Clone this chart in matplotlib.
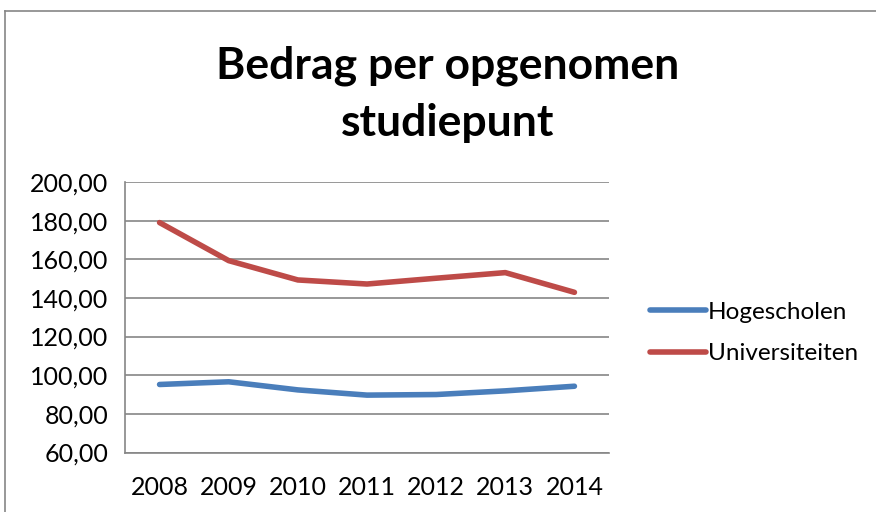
import matplotlib
matplotlib.use('Agg')
import matplotlib.pyplot as plt
from matplotlib.lines import Line2D

years = ['2008', '2009', '2010', '2011', '2012', '2013', '2014']
hogescholen = [95.2, 96.6, 92.4, 89.7, 90.0, 91.9, 94.3]
universiteiten = [179.0, 159.3, 149.3, 147.2, 150.2, 153.1, 142.9]
yticks = [60, 80, 100, 120, 140, 160, 180, 200]

blue = '#4A7EBB'
red = '#BE4B48'
grid_col = '#868686'
font = 'Lato'

fig = plt.figure(figsize=(8.76, 5.12), dpi=100)

# outer chart border (top and left visible)
fig.add_artist(Line2D([5 / 876, 5 / 876], [0, 1 - 10.5 / 512], color=grid_col, lw=1.2))
fig.add_artist(Line2D([5 / 876, 1], [1 - 10.5 / 512, 1 - 10.5 / 512], color=grid_col, lw=1.2))

ax = fig.add_axes([125 / 876, 1 - 452.5 / 512, 484 / 876, 270.5 / 512])
x = list(range(len(years)))
ax.plot(x, hogescholen, color=blue, lw=4, solid_capstyle='round', label='Hogescholen')
ax.plot(x, universiteiten, color=red, lw=4, solid_capstyle='round', label='Universiteiten')

ax.set_xlim(-0.5, len(years) - 0.5)
ax.set_ylim(60, 200)
ax.set_yticks(yticks)
ax.set_yticklabels([f'{v:.2f}'.replace('.', ',') for v in yticks], fontsize=18, family=font)
ax.set_xticks(x)
ax.set_xticklabels(years, fontsize=18, family=font)
ax.tick_params(length=0)
ax.tick_params(axis='y', pad=12)
ax.tick_params(axis='x', pad=17)
ax.yaxis.grid(True, color=grid_col, lw=1.2)
ax.set_axisbelow(True)
for s in ['top', 'right']:
    ax.spines[s].set_visible(False)
for s in ['left', 'bottom']:
    ax.spines[s].set_color(grid_col)
    ax.spines[s].set_linewidth(1.2)

fig.text(448 / 876, 1 - 66 / 512, 'Bedrag per opgenomen', ha='center', va='center',
         fontsize=32, fontweight='bold', family=font)
fig.text(448 / 876, 1 - 123 / 512, 'studiepunt', ha='center', va='center',
         fontsize=32, fontweight='bold', family=font)

leg = fig.legend(loc='center left', bbox_to_anchor=(628 / 876, 1 - 333 / 512),
                 frameon=False, prop={'family': font, 'size': 17.5},
                 handlelength=2.3, handletextpad=0.1, labelspacing=0.85)

fig.savefig('out.png', dpi=100)
